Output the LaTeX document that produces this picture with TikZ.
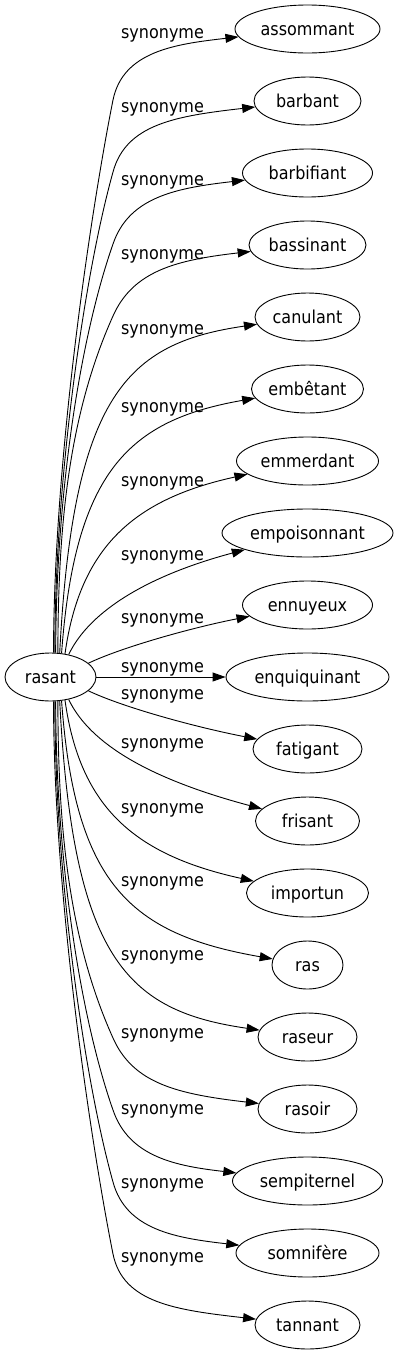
\documentclass[tikz,border=0pt]{standalone}
\usepackage{fontspec}
\setmainfont{DejaVu Sans}[FakeStretch=0.9]
\usetikzlibrary{arrows.meta,shapes.geometric}
\begin{document}
\begin{tikzpicture}[x=1pt,y=-1pt,
  every node/.style={font=\fontsize{17.8}{20}\selectfont},
  term/.style={draw, ellipse, line width=0.9pt, minimum height=48pt, inner xsep=-2pt, inner ysep=0pt, text height=12pt, text depth=0pt},
  lab/.style={anchor=base, inner sep=0pt},
  conn/.style={draw, line width=0.9pt, -{Triangle[length=13pt,width=9pt]}}]
\useasboundingbox (0,0) rectangle (400,1355);
% nodes
\node[term, minimum width=91pt] (r) at (50.5,677) {rasant};
\node[term, minimum width=145pt] (a1) at (307.5,29) {assommant};
\node[term, minimum width=107pt] (a2) at (307.5,101) {barbant};
\node[term, minimum width=130pt] (a3) at (307.5,173) {barbifiant};
\node[term, minimum width=117pt] (a4) at (307.5,245) {bassinant};
\node[term, minimum width=105pt] (a5) at (307.5,317) {canulant};
\node[term, minimum width=112pt] (a6) at (307.5,389) {embêtant};
\node[term, minimum width=142pt] (a7) at (307.5,461) {emmerdant};
\node[term, minimum width=171pt] (a8) at (307.5,533) {empoisonnant};
\node[term, minimum width=130pt] (a9) at (307.5,605) {ennuyeux};
\node[term, minimum width=163pt] (a10) at (307.5,677) {enquiquinant};
\node[term, minimum width=109pt] (a11) at (307.5,749) {fatigant};
\node[term, minimum width=104pt] (a12) at (307.5,821) {frisant};
\node[term, minimum width=122pt] (a13) at (307.5,893) {importun};
\node[term, minimum width=71pt] (a14) at (307.5,965) {ras};
\node[term, minimum width=99pt] (a15) at (307.5,1037) {raseur};
\node[term, minimum width=99pt] (a16) at (307.5,1109) {rasoir};
\node[term, minimum width=150pt] (a17) at (307.5,1181) {sempiternel};
\node[term, minimum width=143pt] (a18) at (307.5,1253) {somnifère};
\node[term, minimum width=105pt] (a19) at (307.5,1325) {tannant};
% bend points
\coordinate (k1) at (113,100);
\coordinate (k2) at (113,172);
\coordinate (k3) at (113,244);
\coordinate (k4) at (113,316);
\coordinate (k16) at (113,1038);
\coordinate (k17) at (113,1110);
\coordinate (k18) at (113,1182);
\coordinate (k19) at (113,1254);
% connectors
\draw[conn] (r.83) .. controls (54,450) and (93,200) .. (k1) .. controls (123,51) and (176,44) .. (a1);
\draw[conn] (r.80) .. controls (55,476) and (85,272) .. (k2) .. controls (126,124) and (176,116) .. (a2);
\draw[conn] (r.78) .. controls (56,502) and (78,344) .. (k3) .. controls (129,197) and (176,188) .. (a3);
\draw[conn] (r.73) .. controls (58,529) and (68,416) .. (k4) .. controls (133,271) and (176,260) .. (a4);
\draw[conn] (r.69) .. controls (73,395) and (127,343) .. (a5);
\draw[conn] (r.65) .. controls (75,470) and (130,420) .. (a6);
\draw[conn] (r.58) .. controls (80,546) and (135,499) .. (a7);
\draw[conn] (r.51) .. controls (90,610) and (150,575) .. (a8);
\draw[conn] (r.20) .. controls (120,648) and (190,628) .. (a9);
\draw[conn] (r) -- (a10);
\draw[conn] (r.-20) .. controls (120,706) and (190,726) .. (a11);
\draw[conn] (r.-51) .. controls (90,744) and (150,779) .. (a12);
\draw[conn] (r.-58) .. controls (80,808) and (135,855) .. (a13);
\draw[conn] (r.-65) .. controls (75,884) and (130,934) .. (a14);
\draw[conn] (r.-69) .. controls (73,959) and (127,1011) .. (a15);
\draw[conn] (r.-73) .. controls (58,825) and (68,938) .. (k16) .. controls (133,1083) and (176,1094) .. (a16);
\draw[conn] (r.-78) .. controls (56,852) and (78,1010) .. (k17) .. controls (129,1157) and (176,1166) .. (a17);
\draw[conn] (r.-80) .. controls (55,878) and (85,1082) .. (k18) .. controls (126,1230) and (176,1238) .. (a18);
\draw[conn] (r.-83) .. controls (54,904) and (93,1154) .. (k19) .. controls (123,1303) and (176,1310) .. (a19);
% labels
\node[lab] (l1) at (162.5,38) {synonyme};
\node[lab] (l2) at (162.5,112) {synonyme};
\node[lab] (l3) at (162.5,185) {synonyme};
\node[lab] (l4) at (162.5,259) {synonyme};
\node[lab] (l5) at (162.5,334) {synonyme};
\node[lab] (l6) at (162.5,412) {synonyme};
\node[lab] (l7) at (162.5,486) {synonyme};
\node[lab] (l8) at (162.5,560) {synonyme};
\node[lab] (l9) at (162.5,623) {synonyme};
\node[lab] (l10) at (162.5,672) {synonyme};
\node[lab] (l11) at (162.5,699) {synonyme};
\node[lab] (l12) at (162.5,748) {synonyme};
\node[lab] (l13) at (162.5,813) {synonyme};
\node[lab] (l14) at (162.5,886) {synonyme};
\node[lab] (l15) at (162.5,960) {synonyme};
\node[lab] (l16) at (162.5,1038) {synonyme};
\node[lab] (l17) at (162.5,1114) {synonyme};
\node[lab] (l18) at (162.5,1188) {synonyme};
\node[lab] (l19) at (162.5,1262) {synonyme};
\end{tikzpicture}
\end{document}
